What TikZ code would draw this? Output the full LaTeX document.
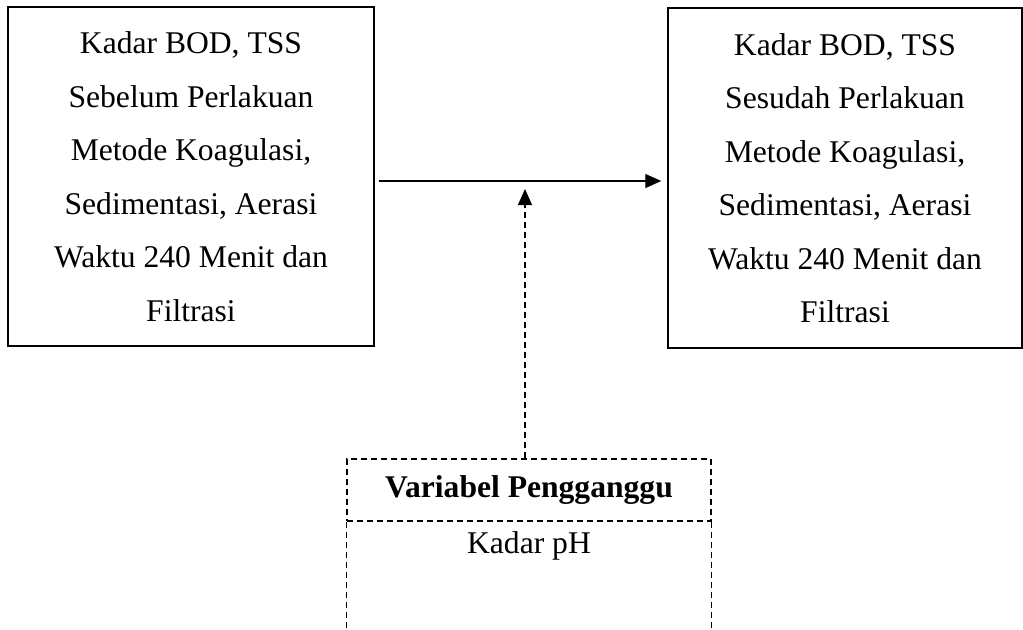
\documentclass[tikz,border=0pt]{standalone}
\usepackage{fontspec}
\setmainfont{Liberation Serif}
\usetikzlibrary{positioning,arrows.meta,calc}

\begin{document}
\begin{tikzpicture}[
    x=0.5pt, y=-0.5pt,
    box/.style={rectangle, draw=black, line width=0.7pt, align=center, inner sep=0pt, font=\fontsize{15.8}{26.75}\selectfont},
    arrow/.style={-{Triangle[length=8pt,width=7pt]}, line width=0.6pt},
    dashline/.style={line width=0.6pt, dash pattern=on 3pt off 2pt}
]
\useasboundingbox (0,0) rectangle (1023,629);

\node[box, minimum width=183pt, minimum height=169.5pt] (before) at (191,176.5) {Kadar BOD, TSS\\Sebelum Perlakuan\\Metode Koagulasi,\\Sedimentasi, Aerasi\\Waktu 240 Menit dan\\Filtrasi};
\node[box, minimum width=177pt, minimum height=170pt] (after) at (845,178) {Kadar BOD, TSS\\Sesudah Perlakuan\\Metode Koagulasi,\\Sedimentasi, Aerasi\\Waktu 240 Menit dan\\Filtrasi};

\node[box, dashline, minimum width=182pt, minimum height=31pt, font=\fontsize{15.8}{18}\selectfont\bfseries] (noise) at (529,490) {Variabel Pengganggu};
\node[below=5pt of noise, inner sep=0pt, font=\fontsize{15.8}{18}\selectfont] (ph) {Kadar pH};
\coordinate (bottom) at (529,629);
\draw[dashline] (noise.south west) -- (noise.south west |- bottom);
\draw[dashline] (noise.south east) -- (noise.south east |- bottom);

\coordinate (arrowstart) at ([xshift=2pt,yshift=-2.25pt]before.east);
\draw[arrow, shorten >=3pt] (arrowstart) -- (arrowstart -| after.west);
\draw[arrow, dashline, shorten >=4pt] ([xshift=-2pt]noise.north) -- ([xshift=-2pt]noise.north |- arrowstart);

\end{tikzpicture}
\end{document}
